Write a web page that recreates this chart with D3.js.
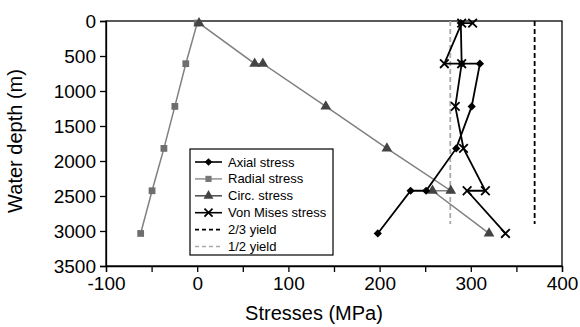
<!DOCTYPE html>
<html lang="en">

<head>
  <meta charset="UTF-8">
  <title>Stresses vs water depth</title>
  <style>
    body { margin: 0; background: #fff; }
    svg { font-family: "Liberation Sans", Arial, sans-serif; }
  </style>
</head>

<body>
  <svg id="svg" width="580" height="327"></svg>

  <script src="https://d3js.org/d3.v7.min.js"></script>
  <script>

    // values (depth in m, stress in MPa)
    const radialDepth = [30, 610, 1220, 1820, 2425, 3035]
    const radialStress = [0, -12.5, -24.5, -36.5, -49.5, -62]

    const circDepth = [30, 610, 610, 1220, 1820, 2425, 2425, 3035]
    const circStress = [2, 63, 72, 141, 208, 278, 258, 320]

    const axialDepth = [30, 610, 610, 1220, 1820, 2425, 2425, 3035]
    const axialStress = [289, 290, 310, 301, 284, 251, 234, 198]

    const vmDepth = [30, 30, 610, 610, 1220, 1820, 2425, 2425, 3035]
    const vmStress = [302, 290, 271, 290, 283, 292, 316, 296, 338]

    const yieldDepth = [0, 2900]
    const twoThirdYield = 370
    const halfYield = 277.5

    const xTicks = d3.range(-100, 401, 50)
    const xLabels = [-100, 0, 100, 200, 300, 400]
    const yTicks = d3.range(0, 3501, 500)

    const legendNames = ['Axial stress', 'Radial stress', 'Circ. stress', 'Von Mises stress', '2/3 yield', '1/2 yield']

    const svg = d3.select('#svg')

    const xScale = d3.scaleLinear().domain([-100, 400]).range([106, 562])
    const yScale = d3.scaleLinear().domain([0, 3500]).range([21, 266])

    // frame
    svg.append('rect')
      .attr('x', 106).attr('y', 21)
      .attr('width', 456).attr('height', 245)
      .attr('fill', 'none').attr('stroke', '#000').attr('stroke-width', 1.3)

    // axes
    const yAxis = svg.append('g')
      .attr('transform', 'translate(106,0)')
      .call(d3.axisLeft(yScale).tickValues(yTicks).tickSize(6).tickPadding(4).tickFormat(d3.format('d')))
    const xAxis = svg.append('g')
      .attr('transform', 'translate(0,266)')
      .call(d3.axisBottom(xScale).tickValues(xTicks).tickSize(6).tickPadding(5)
        .tickFormat(d => xLabels.includes(d) ? d : ''))

    for (const ax of [xAxis, yAxis]) {
      ax.select('.domain').attr('stroke-width', 1.3)
      ax.selectAll('.tick line').attr('stroke-width', 1.3)
      ax.selectAll('text').attr('font-size', 19).attr('fill', '#000')
        .attr('font-family', '"Liberation Sans", Arial, sans-serif')
    }
    xAxis.selectAll('text').text(d => xLabels.includes(d) ? (d < 0 ? '-' + Math.abs(d) : d) : '')
    yAxis.selectAll('text').attr('dy', '0.36em')

    // axis titles
    svg.append('text')
      .attr('x', 314).attr('y', 320)
      .attr('text-anchor', 'middle')
      .attr('font-size', 20)
      .text('Stresses (MPa)')
    svg.append('text')
      .attr('transform', 'translate(22,141) rotate(-90)')
      .attr('text-anchor', 'middle')
      .attr('font-size', 20)
      .text('Water depth (m)')

    const line = d3.line().x(d => xScale(d[0])).y(d => yScale(d[1]))
    const zip = (xs, ys) => xs.map((v, i) => [v, ys[i]])

    // yield lines
    svg.append('path')
      .attr('d', line(zip(yieldDepth.map(() => twoThirdYield), yieldDepth)))
      .attr('stroke', '#000').attr('stroke-width', 1.8).attr('stroke-dasharray', '5,3').attr('fill', 'none')
    svg.append('path')
      .attr('d', line(zip(yieldDepth.map(() => halfYield), yieldDepth)))
      .attr('stroke', '#aaa').attr('stroke-width', 1.8).attr('stroke-dasharray', '5,3').attr('fill', 'none')

    // diamond = square turned by 45 degrees
    const series = [
      { name: 'radial', pts: zip(radialStress, radialDepth), line: '#808080', mark: '#6e6e6e', sym: d3.symbolSquare, size: 46, rot: 0 },
      { name: 'circ', pts: zip(circStress, circDepth), line: '#808080', mark: '#444', sym: d3.symbolTriangle, size: 50, rot: 0 },
      { name: 'axial', pts: zip(axialStress, axialDepth), line: '#000', mark: '#000', sym: d3.symbolSquare, size: 34, rot: 45 },
      { name: 'vm', pts: zip(vmStress, vmDepth), line: '#000', mark: '#000', sym: d3.symbolX, size: 50, rot: 0 }
    ]

    series.forEach(s => {
      svg.append('path')
        .attr('d', line(s.pts))
        .attr('fill', 'none').attr('stroke', s.line).attr('stroke-width', s.line === '#000' ? 1.8 : 1.5)
      svg.selectAll('.m-' + s.name)
        .data(s.pts)
        .enter()
        .append('path')
        .attr('class', 'm-' + s.name)
        .attr('transform', d => `translate(${xScale(d[0])},${yScale(d[1])}) rotate(${s.rot})`)
        .attr('d', d3.symbol().type(s.sym).size(s.size))
        .attr('fill', s.sym === d3.symbolX ? 'none' : s.mark)
        .attr('stroke', s.sym === d3.symbolX ? s.mark : 'none')
        .attr('stroke-width', 1.8)
    })

    // legend
    const lg = svg.append('g')
    lg.append('rect')
      .attr('x', 190).attr('y', 149).attr('width', 143).attr('height', 106)
      .attr('fill', '#fff').attr('stroke', '#000').attr('stroke-width', 1.2)

    const legendStyle = [
      { stroke: '#000', dash: null, mark: '#000', sym: d3.symbolSquare, size: 30, rot: 45 },
      { stroke: '#999', dash: null, mark: '#777', sym: d3.symbolSquare, size: 38, rot: 0 },
      { stroke: '#555', dash: null, mark: '#444', sym: d3.symbolTriangle, size: 42, rot: 0 },
      { stroke: '#000', dash: null, mark: '#000', sym: d3.symbolX, size: 44, rot: 0 },
      { stroke: '#000', dash: '4,3', mark: null },
      { stroke: '#aaa', dash: '4,3', mark: null }
    ]

    legendNames.forEach((name, i) => {
      const yy = 162 + i * 16.9
      const st = legendStyle[i]
      lg.append('line')
        .attr('x1', 195).attr('x2', 222).attr('y1', yy).attr('y2', yy)
        .attr('stroke', st.stroke).attr('stroke-width', 1.6)
        .attr('stroke-dasharray', st.dash)
      if (st.mark) {
        lg.append('path')
          .attr('transform', `translate(208.5,${yy}) rotate(${st.rot})`)
          .attr('d', d3.symbol().type(st.sym).size(st.size))
          .attr('fill', st.sym === d3.symbolX ? 'none' : st.mark)
          .attr('stroke', st.sym === d3.symbolX ? st.mark : 'none')
          .attr('stroke-width', 1.8)
      }
      lg.append('text')
        .attr('x', 228).attr('y', yy + 4.5)
        .attr('font-size', 13)
        .text(name)
    })

  </script>
</body>

</html>
